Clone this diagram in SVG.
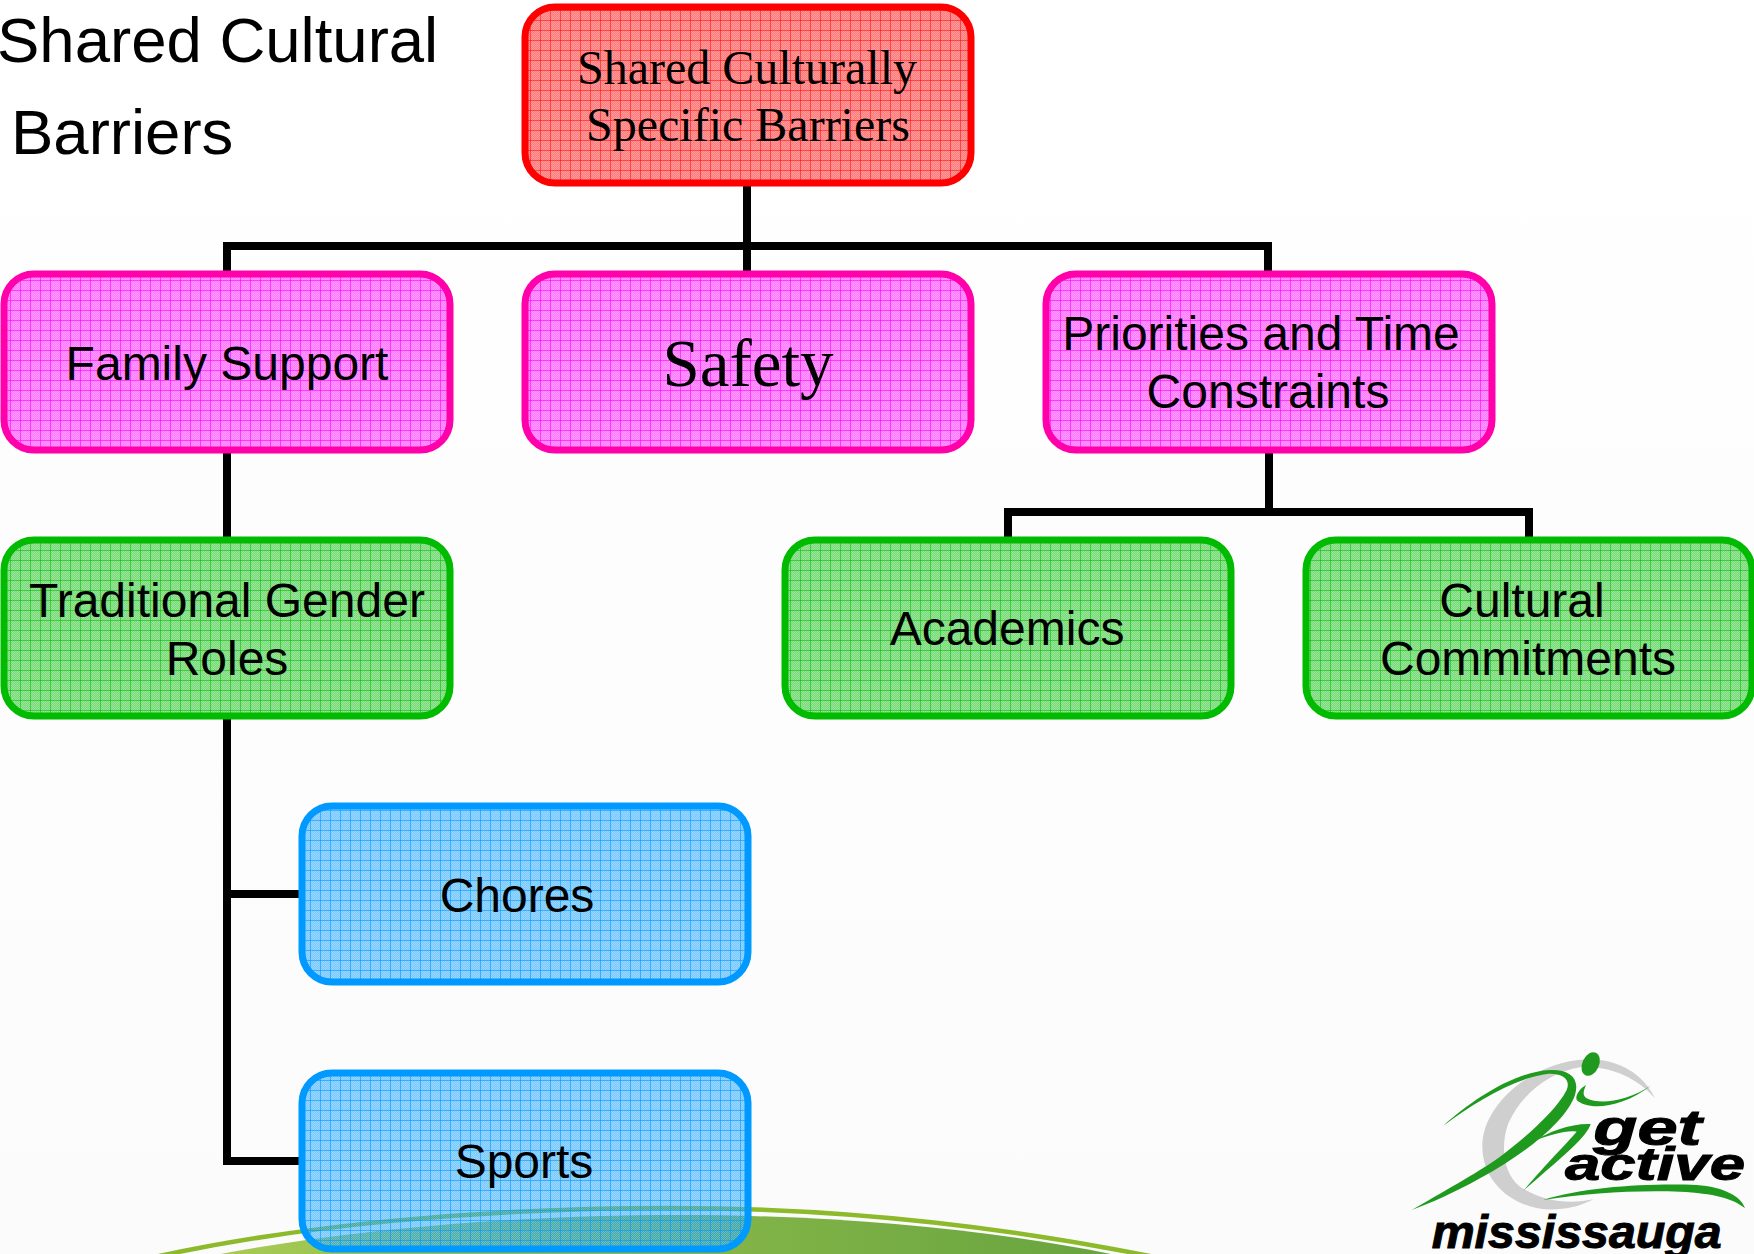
<svg xmlns="http://www.w3.org/2000/svg" width="1754" height="1254" viewBox="0 0 1754 1254">
<style>
.box{stroke-width:7}
.sans{font-family:"Liberation Sans",Arial,sans-serif;fill:#000}
.serif{font-family:"Liberation Serif","Times New Roman",serif;fill:#000}
.t48{font-size:48px}
.title{font-size:63.5px}
.conn{fill:none;stroke:#000;stroke-width:8;stroke-linejoin:miter}
.logo{font-family:"Liberation Sans",Arial,sans-serif;font-weight:700;font-style:italic;fill:#000;stroke:#000;stroke-width:3}
.grn{fill:#1f9a1f}
</style>
<defs>
<linearGradient id="bg" x1="0" y1="0" x2="0" y2="1"><stop offset="0" stop-color="#fff"/><stop offset="1" stop-color="#fbfbfb"/></linearGradient>
<linearGradient id="hill" x1="0" y1="0" x2="1" y2="0"><stop offset="0" stop-color="#a8cb55"/><stop offset="1" stop-color="#66a33e"/></linearGradient>
<pattern id="chk" width="2" height="2" patternUnits="userSpaceOnUse"><path d="M0 0h1v1H0zM1 1h1v1H1z" fill="#fff" fill-opacity=".25"/></pattern>
<pattern id="pr" width="10" height="10" patternUnits="userSpaceOnUse"><rect width="10" height="10" fill="#f00" fill-opacity=".52"/><rect width="10" height="10" fill="url(#chk)"/><path d="M0 .5H10M.5 0V10" stroke="#f00" stroke-opacity=".5" fill="none"/></pattern>
<pattern id="pm" width="10" height="10" patternUnits="userSpaceOnUse"><rect width="10" height="10" fill="#f0f" fill-opacity=".52"/><rect width="10" height="10" fill="url(#chk)"/><path d="M0 .5H10M.5 0V10" stroke="#f0f" stroke-opacity=".6" fill="none"/></pattern>
<pattern id="pg" width="10" height="10" patternUnits="userSpaceOnUse"><rect width="10" height="10" fill="#0b0" fill-opacity=".52"/><rect width="10" height="10" fill="url(#chk)"/><path d="M0 .5H10M.5 0V10" stroke="#0b0" stroke-opacity=".55" fill="none"/></pattern>
<pattern id="pb" width="10" height="10" patternUnits="userSpaceOnUse"><rect width="10" height="10" fill="#09f" fill-opacity=".52"/><rect width="10" height="10" fill="url(#chk)"/><path d="M0 .5H10M.5 0V10" stroke="#09f" stroke-opacity=".6" fill="none"/></pattern>
</defs>
<rect id="background" width="1754" height="1254" fill="url(#bg)"/>
<g id="hills">
<path d="M150 1258C300 1225 480 1208 670 1208C860 1208 1020 1230 1160 1258" fill="none" stroke="#8cba2a" stroke-width="4.5"/>
<path d="M200 1258C330 1232 500 1215 680 1215C850 1215 1010 1232 1130 1258Z" fill="url(#hill)"/>
</g>
<g id="title">
<text class="sans title" x="-3" y="62">Shared Cultural</text>
<text class="sans title" x="11" y="154">Barriers</text>
</g>
<g id="connectors">
<path class="conn" d="M747 186V271M227 271V246H1268V271"/>
<path class="conn" d="M227 452V538"/>
<path class="conn" d="M1269 452V512M1008 538V512H1529V538"/>
<path class="conn" d="M227 717V1161H300M227 894H300"/>
</g>
<g id="n-root"><rect class="box" x="525" y="7" width="446" height="176" rx="30" fill="url(#pr)" stroke="#f00"/>
<text class="serif t48" x="747" y="84" text-anchor="middle">Shared Culturally</text>
<text class="serif t48" x="748" y="141" text-anchor="middle">Specific Barriers</text></g>
<g id="n-family"><rect class="box" x="4" y="274" width="446" height="176" rx="30" fill="url(#pm)" stroke="#f0a"/>
<text class="sans t48" x="227" y="380" text-anchor="middle">Family Support</text></g>
<g id="n-safety"><rect class="box" x="525" y="274" width="446" height="176" rx="30" fill="url(#pm)" stroke="#f0a"/>
<text class="serif" font-size="67" x="748" y="386" text-anchor="middle">Safety</text></g>
<g id="n-priorities"><rect class="box" x="1046" y="274" width="446" height="176" rx="30" fill="url(#pm)" stroke="#f0a"/>
<text class="sans t48" x="1261" y="350" text-anchor="middle">Priorities and Time</text>
<text class="sans t48" x="1268" y="408" text-anchor="middle">Constraints</text></g>
<g id="n-gender"><rect class="box" x="4" y="540" width="446" height="176" rx="30" fill="url(#pg)" stroke="#0b0"/>
<text class="sans t48" x="227" y="617" text-anchor="middle">Traditional Gender</text>
<text class="sans t48" x="227" y="675" text-anchor="middle">Roles</text></g>
<g id="n-academics"><rect class="box" x="785" y="540" width="446" height="176" rx="30" fill="url(#pg)" stroke="#0b0"/>
<text class="sans t48" x="1007" y="645" text-anchor="middle">Academics</text></g>
<g id="n-cultural"><rect class="box" x="1306" y="540" width="446" height="176" rx="30" fill="url(#pg)" stroke="#0b0"/>
<text class="sans t48" x="1522" y="617" text-anchor="middle">Cultural</text>
<text class="sans t48" x="1528" y="675" text-anchor="middle">Commitments</text></g>
<g id="n-chores"><rect class="box" x="302" y="806" width="446" height="176" rx="30" fill="url(#pb)" stroke="#09f"/>
<text class="sans t48" x="517" y="912" text-anchor="middle">Chores</text></g>
<g id="n-sports"><rect class="box" x="302" y="1073" width="446" height="176" rx="30" fill="url(#pb)" stroke="#09f"/>
<text class="sans t48" x="524" y="1178" text-anchor="middle">Sports</text></g>
<g id="logo" transform="translate(1380 1030) scale(.33333)">
<path fill="#cfcfcf" d="M825 205C790 130 710 85 620 88C450 95 305 230 307 350C308 470 420 545 530 538C570 536 610 525 640 508C560 525 480 510 420 470C370 430 360 350 385 280C430 180 520 125 600 112C680 105 770 140 825 205Z"/>
<ellipse class="grn" cx="632" cy="102" rx="25" ry="37" transform="rotate(25 632 102)"/>
<path class="grn" d="M190 287C270 215 400 125 510 120C570 118 600 145 585 195C560 270 440 370 300 445C220 490 150 520 95 540C180 490 290 430 360 380C440 320 530 240 560 180C575 145 540 128 500 132C400 145 280 220 190 287Z"/>
<path class="grn" d="M590 210C620 240 720 240 815 165C740 215 660 225 620 205C605 195 612 180 618 165C600 175 585 195 590 210Z"/>
<path class="grn" d="M455 335C510 305 570 280 632 282C620 320 560 370 430 482C500 400 560 340 590 305C560 300 510 315 455 335Z"/>
<path class="grn" d="M490 510C620 470 800 460 950 465C1030 470 1085 500 1095 535C1060 505 1000 490 900 485C760 480 620 490 490 510Z"/>
<text class="logo" font-size="150" x="640" y="345" textLength="325" lengthAdjust="spacingAndGlyphs">get</text>
<text class="logo" font-size="140" x="555" y="450" textLength="540" lengthAdjust="spacingAndGlyphs">active</text>
<text class="logo" font-size="140" x="155" y="655" textLength="870" lengthAdjust="spacingAndGlyphs">mississauga</text>
</g>
</svg>
